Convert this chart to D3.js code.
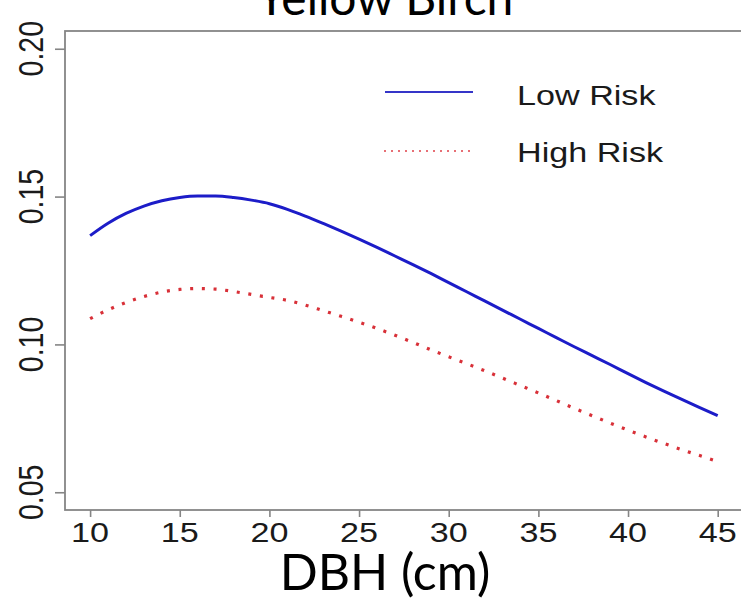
<!DOCTYPE html>
<html>
<head>
<meta charset="utf-8">
<script src="https://cdn.jsdelivr.net/npm/d3@7/dist/d3.min.js"></script>
<style>
  html, body { margin: 0; padding: 0; background: #fff; }
  svg { display: block; }
</style>
</head>
<body>
<svg id="chart" width="741" height="612"></svg>
<script>
// Predicted probability by stem diameter (DBH, cm) for two risk classes
const dbh = [10,11,12,13,14,15,16,17,18,19,20,21,22,23,24,25,26,27,28,29,30,
             31,32,33,34,35,36,37,38,39,40,41,42,43,44,45];
const lowRisk = [0.1368,0.1410,0.1443,0.1468,0.1486,0.1497,0.1502,0.1502,0.1497,0.1488,
                 0.1476,0.1457,0.1434,0.1409,0.1383,0.1356,0.1328,0.1299,0.1270,0.1240,
                 0.1209,0.1178,0.1147,0.1116,0.1085,0.1054,0.1023,0.0992,0.0962,0.0932,
                 0.0901,0.0871,0.0842,0.0814,0.0786,0.0759];
const highRisk = [0.1087,0.1117,0.1142,0.1162,0.1177,0.1186,0.1189,0.1187,0.1179,0.1169,
                  0.1159,0.1149,0.1133,0.1114,0.1095,0.1075,0.1054,0.1031,0.1007,0.0982,
                  0.0958,0.0935,0.0911,0.0886,0.0861,0.0836,0.0810,0.0784,0.0759,0.0734,
                  0.0710,0.0687,0.0665,0.0644,0.0624,0.0604];
const xTicks = [10,15,20,25,30,35,40,45];
const yTicks = [0.05,0.10,0.15,0.20];
const seriesNames = ["Low Risk","High Risk"];
const titleText = "Yellow Birch";
const xTitle = "DBH (cm)";

const svg = d3.select("#chart");
const rFont = "'Liberation Sans', Arial, sans-serif";
const stretch = 1.22;

// Plot region with 4% padding around the data limits (x 10–45, y 0.05–0.20)
const x = d3.scaleLinear().domain([8.6, 46.4]).range([65, 742.8]);
const y = d3.scaleLinear().domain([0.044, 0.206]).range([510, 31]);

// Frame
svg.append("rect")
  .attr("x", x.range()[0]).attr("y", y.range()[1])
  .attr("width", x.range()[1] - x.range()[0])
  .attr("height", y.range()[0] - y.range()[1])
  .attr("fill", "none").attr("stroke", "#858585").attr("stroke-width", 1.8);

// Axes: ticks from d3, labels drawn separately
const yAxis = svg.append("g").attr("transform", `translate(${x.range()[0]},0)`)
  .call(d3.axisLeft(y).tickValues(yTicks).tickSize(10).tickFormat(""));
const xAxis = svg.append("g").attr("transform", `translate(0,${y.range()[0]})`)
  .call(d3.axisBottom(x).tickValues(xTicks).tickSize(7).tickFormat(""));
[yAxis, xAxis].forEach(g => {
  g.select(".domain").remove();
  g.selectAll(".tick line").attr("stroke", "#858585").attr("stroke-width", 1.6);
});

svg.append("g").selectAll("text").data(yTicks).join("text")
  .attr("transform", d => `translate(43,${y(d)}) scale(${stretch},1) rotate(-90)`)
  .attr("text-anchor", "middle")
  .attr("font-family", rFont).attr("font-size", 28.5).attr("fill", "#1a1a1a")
  .text(d => d.toFixed(2));

svg.append("g").selectAll("text").data(xTicks).join("text")
  .attr("transform", d => `translate(${x(d)},542) scale(${stretch},1)`)
  .attr("text-anchor", "middle")
  .attr("font-family", rFont).attr("font-size", 28).attr("fill", "#1a1a1a")
  .text(d => d);

// Curves
const line = d3.line().x(d => x(d[0])).y(d => y(d[1])).curve(d3.curveMonotoneX);

svg.append("path")
  .datum(dbh.map((d, i) => [d, lowRisk[i]]))
  .attr("d", line).attr("fill", "none")
  .attr("stroke", "#1c1cc8").attr("stroke-width", 3);

svg.append("path")
  .datum(dbh.map((d, i) => [d, highRisk[i]]))
  .attr("d", line).attr("fill", "none")
  .attr("stroke", "#d83038").attr("stroke-width", 3.2)
  .attr("stroke-dasharray", "3,8.7");

// Legend
const legend = svg.append("g");
legend.append("line").attr("x1", 385).attr("x2", 473).attr("y1", 92).attr("y2", 92)
  .attr("stroke", "#3535c8").attr("stroke-width", 2);
legend.append("line").attr("x1", 384).attr("x2", 470).attr("y1", 151).attr("y2", 151)
  .attr("stroke", "#e04048").attr("stroke-width", 1.5).attr("stroke-dasharray", "2,5");
legend.selectAll("text.lab").data(seriesNames).join("text")
  .attr("class", "lab")
  .attr("transform", (d, i) => `translate(517,${i === 0 ? 105 : 162}) scale(${stretch},1)`)
  .attr("font-family", rFont).attr("font-size", 28).attr("fill", "#1a1a1a")
  .text(d => d);

// Titles
svg.append("text").attr("x", 385).attr("y", 15).attr("text-anchor", "middle")
  .attr("font-family", "Lato, 'Open Sans', sans-serif").attr("font-size", 48)
  .attr("fill", "#000").text(titleText);
svg.append("text").attr("x", 385).attr("y", 590).attr("text-anchor", "middle")
  .attr("font-family", "Lato, 'Open Sans', sans-serif").attr("font-size", 50)
  .attr("fill", "#000").text(xTitle);
</script>
</body>
</html>
